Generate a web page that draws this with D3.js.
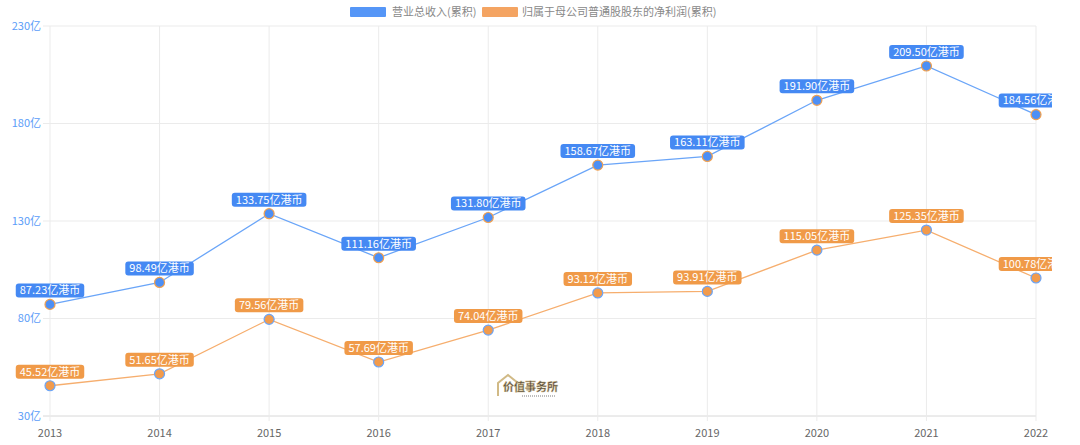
<!DOCTYPE html>
<html><head><meta charset="utf-8">
<script src="https://cdn.jsdelivr.net/npm/d3@7/dist/d3.min.js"></script>
<style>body{margin:0;background:#fff;}svg{display:block;font-family:"Noto Sans CJK SC","Liberation Sans",sans-serif;}</style>
</head><body>
<svg id="c" width="1080" height="445"></svg>
<script>
const years = ["2013","2014","2015","2016","2017","2018","2019","2020","2021","2022"];
const revenue = [87.23, 98.49, 133.75, 111.16, 131.80, 158.67, 163.11, 191.90, 209.50, 184.56];
const profit = [45.52, 51.65, 79.56, 57.69, 74.04, 93.12, 93.91, 115.05, 125.35, 100.78];
const yTicks = [30, 80, 130, 180, 230];
const seriesNames = ["营业总收入(累积)", "归属于母公司普通股股东的净利润(累积)"];
const unit = "亿港币";

const svg = d3.select("#c");
const x = d3.scalePoint().domain(years).range([50, 1036]);
const y = d3.scaleLinear().domain([30, 230]).range([416, 26]);

const colors = [{line:"#6aa5f8", box:"#4589f3", mark:"#4d8ff5", stroke:"#f0a050"},
                {line:"#f6ae6e", box:"#f09a48", mark:"#f29b4c", stroke:"#6aa5f8"}];

svg.append("defs").append("clipPath").attr("id","clip").append("rect")
  .attr("x",0).attr("y",0).attr("width",1052).attr("height",445);

svg.append("g").selectAll("line").data(yTicks).join("line")
  .attr("x1",43).attr("x2",1036).attr("y1",d=>y(d)).attr("y2",d=>y(d))
  .attr("stroke",d=>d===30?"#d8d8d8":"#ebebeb").attr("stroke-width",1);
svg.append("g").selectAll("line").data(years).join("line")
  .attr("x1",d=>x(d)).attr("x2",d=>x(d)).attr("y1",y(230)).attr("y2",y(30)+5)
  .attr("stroke","#ebebeb").attr("stroke-width",1);

svg.append("g").selectAll("text").data(yTicks).join("text")
  .attr("x",41).attr("y",d=>y(d)).attr("dy","0.35em").attr("text-anchor","end")
  .attr("font-size",11).attr("fill","#5b9cf8").text(d=>d+"亿");
svg.append("g").selectAll("text").data(years).join("text")
  .attr("x",d=>x(d)).attr("y",433).attr("dy","0.35em").attr("text-anchor","middle")
  .attr("font-size",11).attr("fill","#666").text(d=>d);

// legend
const lg = svg.append("g");
lg.append("rect").attr("x",350).attr("y",7).attr("width",36).attr("height",10).attr("rx",1).attr("fill","#5596f7");
lg.append("text").attr("x",392).attr("y",12).attr("dy","0.35em").attr("font-size",11).attr("fill","#888").text(seriesNames[0]);
lg.append("rect").attr("x",482).attr("y",7).attr("width",36).attr("height",10).attr("rx",1).attr("fill","#f4a462");
lg.append("text").attr("x",522).attr("y",12).attr("dy","0.35em").attr("font-size",11).attr("fill","#888").text(seriesNames[1]);

// watermark
const wm = svg.append("g").attr("opacity",0.85);
wm.append("path").attr("d","M498,396 L498,383 L508,375 L518,383").attr("fill","none").attr("stroke","#c9ae72").attr("stroke-width",2);
wm.append("text").attr("x",503).attr("y",391).attr("font-size",11).attr("font-weight","bold").attr("fill","#3a3020").attr("stroke","#c9ae72").attr("stroke-width",0.4).text("价值事务所");
wm.append("line").attr("x1",522).attr("x2",555).attr("y1",396).attr("y2",396).attr("stroke","#999").attr("stroke-width",1.5).attr("stroke-dasharray","1,1");

const plot = svg.append("g").attr("clip-path","url(#clip)");
const line = d3.line().x((d,i)=>x(years[i])).y(d=>y(d));

[revenue, profit].forEach((data, si) => {
  const c = colors[si];
  plot.append("path").datum(data).attr("d",line).attr("fill","none").attr("stroke",c.line).attr("stroke-width",1.3);
  plot.append("g").selectAll("circle").data(data).join("circle")
    .attr("cx",(d,i)=>x(years[i])).attr("cy",d=>y(d)).attr("r",5)
    .attr("fill",c.mark).attr("stroke",c.stroke).attr("stroke-width",1.2);
  const lab = plot.append("g").selectAll("g").data(data).join("g")
    .attr("transform",(d,i)=>`translate(${x(years[i])},${y(d)-14})`);
  lab.each(function(d){
    const g = d3.select(this);
    const t = g.append("text").attr("text-anchor","middle").attr("dy","0.35em")
      .attr("font-size",11).attr("fill","#fff").text(d.toFixed(2)+unit);
    const w = t.node().getComputedTextLength();
    g.insert("rect","text").attr("x",-w/2-4).attr("y",-7).attr("width",w+8).attr("height",14)
      .attr("rx",3).attr("fill",c.box);
  });
});
</script>
</body></html>
